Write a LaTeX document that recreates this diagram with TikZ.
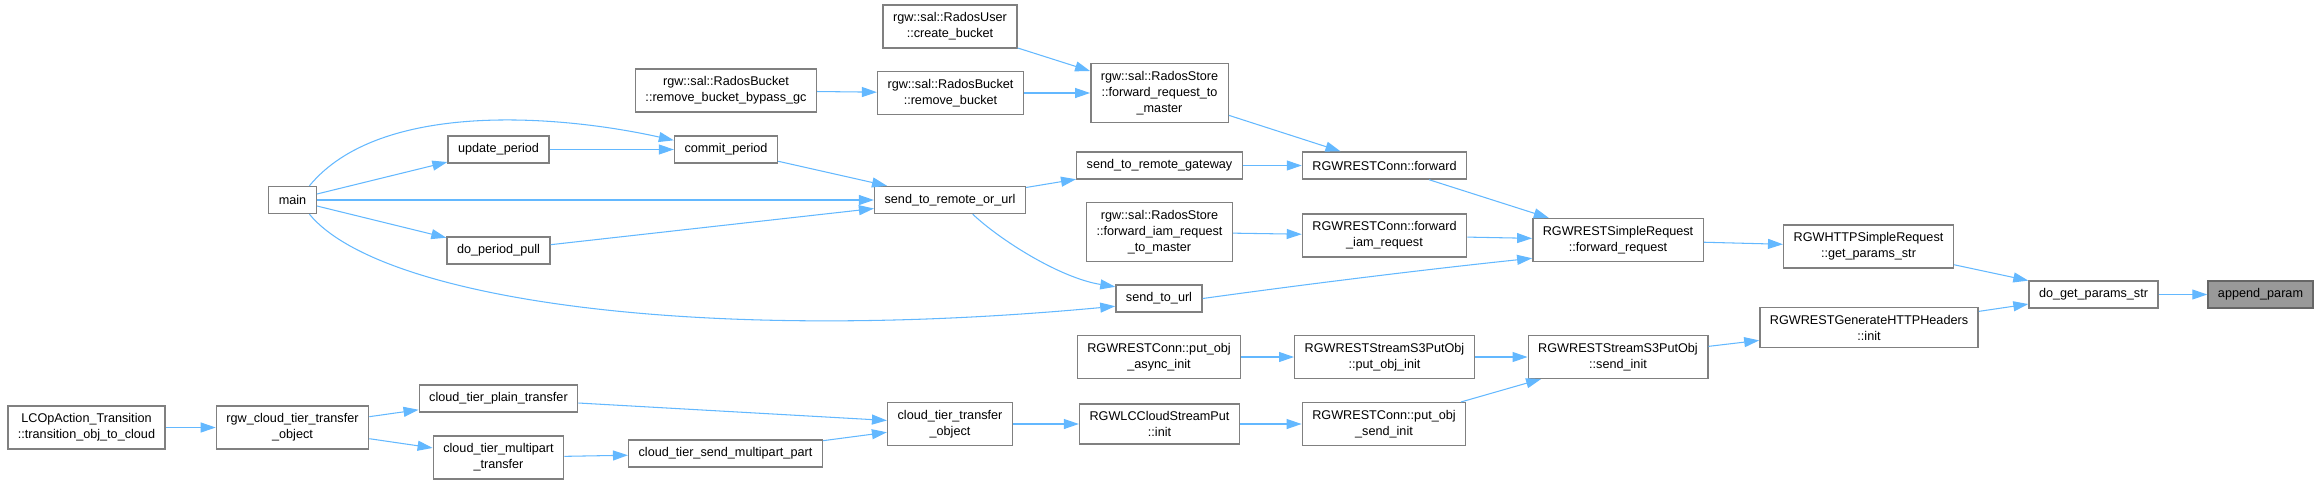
\documentclass[tikz,border=0pt]{standalone}
\usepackage{fontspec}
\setmainfont{Liberation Sans}
\usetikzlibrary{arrows.meta}
\definecolor{edgeblue}{HTML}{63B8FF}
\definecolor{boxgray}{HTML}{808080}
\definecolor{hitgray}{HTML}{999999}
\begin{document}
\begin{tikzpicture}[x=0.02cm, y=-0.02cm,
  fn/.style={draw=boxgray, line width=0.8pt, fill=white, align=center, inner xsep=0.2cm, inner ysep=0.15cm, minimum height=0.54cm, font=\fontsize{7.2}{9.1}\selectfont},
  call/.style={draw=edgeblue, line width=0.6pt, -{Triangle[length=0.3cm,width=0.2cm]}}]
\useasboundingbox (0,0) rectangle (2319,484);

\node[fn] (main) at (292.5,200) {main};
\node[fn] (upd) at (498.5,149.5) {update\_period};
\node[fn] (commit) at (726,149.5) {commit\_period};
\node[fn] (pull) at (498.5,250.5) {do\_period\_pull};
\node[fn] (bypass) at (726,90.5) {rgw::sal::RadosBucket\\::remove\_bucket\_bypass\_gc};
\node[fn] (create) at (950,26.5) {rgw::sal::RadosUser\\::create\_bucket};
\node[fn] (remove) at (950.5,93) {rgw::sal::RadosBucket\\::remove\_bucket};
\node[fn] (fwdmaster) at (1159.5,93) {rgw::sal::RadosStore\\::forward\_request\_to\\\_master};
\node[fn] (gateway) at (1159.5,165.5) {send\_to\_remote\_gateway};
\node[fn] (connfwd) at (1384.5,165.5) {RGWRESTConn::forward};
\node[fn] (remote) at (950,200) {send\_to\_remote\_or\_url};
\node[fn] (iammaster) at (1159.5,232) {rgw::sal::RadosStore\\::forward\_iam\_request\\\_to\_master};
\node[fn] (conniam) at (1384.5,235.5) {RGWRESTConn::forward\\\_iam\_request};
\node[fn] (simplefwd) at (1618,240) {RGWRESTSimpleRequest\\::forward\_request};
\node[fn] (httpparams) at (1868.5,246.5) {RGWHTTPSimpleRequest\\::get\_params\_str};
\node[fn] (getparams) at (2093.5,294.5) {do\_get\_params\_str};
\node[fn, fill=hitgray, draw=boxgray!80!black] (append) at (2260.5,294.5) {append\_param};
\node[fn] (genheaders) at (1869,327.5) {RGWRESTGenerateHTTPHeaders\\::init};
\node[fn] (sendinit) at (1618,357) {RGWRESTStreamS3PutObj\\::send\_init};
\node[fn] (tourl) at (1159,298.5) {send\_to\_url};
\node[fn] (asyncinit) at (1159,357) {RGWRESTConn::put\_obj\\\_async\_init};
\node[fn] (putinit) at (1384.5,357) {RGWRESTStreamS3PutObj\\::put\_obj\_init};
\node[fn] (xferobj) at (950,424) {cloud\_tier\_transfer\\\_object};
\node[fn] (streamput) at (1159.5,424) {RGWLCCloudStreamPut\\::init};
\node[fn] (sendobjinit) at (1384,424) {RGWRESTConn::put\_obj\\\_send\_init};
\node[fn] (transition) at (86.5,427.5) {LCOpAction\_Transition\\::transition\_obj\_to\_cloud};
\node[fn] (rgwxfer) at (292.5,427.5) {rgw\_cloud\_tier\_transfer\\\_object};
\node[fn] (plain) at (498.5,398.5) {cloud\_tier\_plain\_transfer};
\node[fn] (multipart) at (498.5,457.5) {cloud\_tier\_multipart\\\_transfer};
\node[fn] (sendpart) at (725.5,453.5) {cloud\_tier\_send\_multipart\_part};

% period commands
\draw[call] (main.40) .. controls (380,100) and (560,115) .. (commit.170);
\draw[call] (main) -- (upd);
\draw[call] (main) -- (remote);
\draw[call] (main) -- (pull);
\draw[call] (main.-40) .. controls (380,300) and (700,345) .. (tourl.190);
\draw[call] (upd) -- (commit);
\draw[call] (commit) -- (remote);
\draw[call] (pull) -- (remote);
\draw[call] (remote) -- (gateway);
\draw[call] (remote.-32) .. controls (1000,240) and (1060,278) .. (tourl.165);
\draw[call] (gateway) -- (connfwd);

% store forwarding
\draw[call] (bypass) -- (remove);
\draw[call] (remove) -- (fwdmaster);
\draw[call] (create) -- (fwdmaster);
\draw[call] (fwdmaster) -- (connfwd);
\draw[call] (connfwd) -- (simplefwd);
\draw[call] (iammaster) -- (conniam);
\draw[call] (conniam) -- (simplefwd);
\draw[call] (tourl.east) .. controls (1300,285) and (1420,270) .. (simplefwd.192);
\draw[call] (simplefwd) -- (httpparams);
\draw[call] (httpparams) -- (getparams);
\draw[call] (getparams) -- (append);

% put obj
\draw[call] (genheaders) -- (getparams);
\draw[call] (sendinit) -- (genheaders);
\draw[call] (putinit) -- (sendinit);
\draw[call] (asyncinit) -- (putinit);
\draw[call] (sendobjinit) -- (sendinit);
\draw[call] (streamput) -- (sendobjinit);
\draw[call] (xferobj) -- (streamput);

% cloud tier
\draw[call] (plain) -- (xferobj);
\draw[call] (sendpart) -- (xferobj);
\draw[call] (multipart) -- (sendpart);
\draw[call] (rgwxfer) -- (plain);
\draw[call] (rgwxfer) -- (multipart);
\draw[call] (transition) -- (rgwxfer);
\end{tikzpicture}
\end{document}
